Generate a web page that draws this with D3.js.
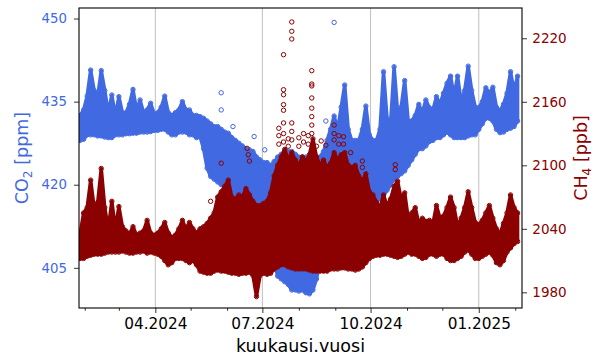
<!DOCTYPE html>
<html>
<head>
<meta charset="utf-8">
<script src="https://cdn.jsdelivr.net/npm/d3@7"></script>
<style>
  body { margin: 0; background: #fff; }
  svg { display: block; font-family: "DejaVu Sans", sans-serif; }
</style>
</head>
<body>
<svg id="chart" width="600" height="360"></svg>
<script>
// Measurement series, one sample every 3 days from 28.1.2024 (daily low / high envelope)
const startDate = Date.UTC(2024, 0, 28);
const stepDays = 3;

const co2Lo = [428, 428.2, 429, 429, 429, 428.8, 428.8, 428.6, 428.5, 428.5,
  429, 429, 429, 429.2, 429.2, 429.3, 429.3, 429.5, 429.5, 429.5,
  429.6, 429.8, 429.8, 430, 430, 429.5, 429, 429, 429.5, 429.5,
  429.5, 429, 429, 428.5, 428.7, 426.5, 423, 421.5, 421, 420.5,
  420, 419.7, 419.5, 418, 416.8, 416, 415.5, 415, 415, 415,
  414.5, 414, 413, 411, 409, 406, 403.5, 403, 402.5, 402,
  401, 401, 400.8, 401, 400.5, 400.3, 401, 403, 406, 408,
  409, 409, 409, 409, 409.5, 410, 410.5, 411, 411.5, 412,
  413, 414, 415, 416, 417, 417.5, 418, 419, 420, 421,
  421.5, 422, 422.5, 423.5, 424.5, 425.5, 426.5, 426.5, 427, 427.8,
  428, 428.5, 428.5, 429, 429.5, 429, 428.5, 428.5, 428.5, 428.5,
  428.8, 429, 429, 430, 431, 432, 432, 431.5, 430, 429.4,
  429.5, 430, 430.2, 430.5, 431.5];
const co2Hi = [432.5, 433.5, 436, 440.7, 437, 436, 440.6, 437, 433, 436.2,
  432.5, 435.9, 433, 433, 434.5, 437.2, 433.5, 435.3, 433, 433.5,
  434.7, 432.8, 433, 434, 436, 433, 432.5, 433, 433.5, 435,
  433.5, 433.5, 432.5, 432.5, 432.3, 432, 431.5, 431, 430.5, 430.5,
  430, 429.5, 429.3, 428.5, 428, 427.5, 427, 426.5, 426.3, 426,
  425, 424.5, 424, 424, 423.5, 424, 425, 425.5, 426, 426,
  426, 425.5, 425, 425, 425, 425, 424.5, 424.5, 425, 426,
  428, 430, 432.4, 430, 434, 438, 430, 428, 428, 428,
  430, 434.2, 429, 428, 428, 430, 440.4, 432, 431, 441.3,
  433, 434, 438.8, 431.5, 431.5, 432.5, 434.5, 433, 435.3, 433.9,
  433.5, 435.9, 434.5, 436.5, 438.3, 439.6, 436, 439.6, 435, 437,
  441.4, 437, 434, 433.9, 435, 437.5, 436.5, 437.6, 434, 433.3,
  434.5, 436.5, 440.4, 437, 439.6];

const ch4Lo = [2012, 2012, 2014, 2015, 2016, 2016, 2016, 2017, 2018, 2018,
  2018, 2018, 2019, 2018, 2017, 2017, 2018, 2018, 2019, 2017,
  2018, 2017, 2016, 2014, 2010, 2006, 2008, 2012, 2012, 2012,
  2010, 2008, 2010, 2006, 2000, 1999, 1998, 1998, 2000, 2001,
  2000, 2000, 1999, 1998, 1998, 1997, 1998, 1998, 1999, 1996,
  1976, 1996, 1998, 1997, 1998, 2002, 2004, 2006, 2006, 2004,
  2003, 2002, 2002, 2002, 2002, 2001, 2000, 2000, 2000, 2000,
  2000, 2002, 2002, 2002, 2003, 2003, 2002, 2002, 2001, 2002,
  2004, 2008, 2012, 2014, 2015, 2015, 2016, 2016, 2015, 2014,
  2013, 2014, 2016, 2018, 2016, 2016, 2014, 2012, 2013, 2016,
  2016, 2014, 2016, 2016, 2012, 2010, 2010, 2012, 2014, 2018,
  2020, 2016, 2012, 2012, 2014, 2016, 2018, 2015, 2008, 2006,
  2010, 2018, 2022, 2026, 2028];
const ch4Hi = [2035, 2055, 2060, 2086, 2060, 2065, 2097, 2060, 2040, 2066,
  2040, 2061, 2042, 2038, 2035, 2042, 2034, 2036, 2038, 2048,
  2036, 2034, 2036, 2040, 2046, 2036, 2032, 2034, 2040, 2048,
  2040, 2046, 2040, 2036, 2040, 2042, 2045, 2050, 2055, 2070,
  2075, 2080, 2086, 2070, 2068, 2072, 2070, 2078, 2072, 2066,
  2062, 2062, 2064, 2066, 2074, 2090, 2100, 2108, 2115, 2105,
  2112, 2105, 2100, 2108, 2104, 2110, 2125, 2108, 2100, 2105,
  2098, 2102, 2112, 2105, 2110, 2112, 2100, 2098, 2100, 2090,
  2085, 2092, 2075, 2072, 2065, 2060, 2072, 2062, 2068, 2080,
  2085, 2068, 2074, 2050, 2055, 2060, 2045, 2050, 2047, 2048,
  2045, 2062, 2050, 2052, 2060, 2070, 2060, 2042, 2050, 2060,
  2075, 2060, 2046, 2044, 2048, 2055, 2062, 2050, 2040, 2035,
  2045, 2055, 2072, 2060, 2055];

// single readings outside the daily band
const co2OutDates = ["2024-05-27", "2024-05-27", "2024-06-06", "2024-06-24", "2024-07-03",
  "2024-07-11", "2024-08-24", "2024-08-31"];
const co2OutVals = [436.6, 433.5, 430.5, 428.7, 426.3, 424.2, 431.5, 449.3];

const ch4OutDates = ["2024-05-18", "2024-05-27", "2024-06-18", "2024-06-19", "2024-06-20",
  "2024-07-15", "2024-07-15", "2024-07-15",
  "2024-07-19", "2024-07-19", "2024-07-19", "2024-07-19", "2024-07-19",
  "2024-07-19", "2024-07-19", "2024-07-19",
  "2024-07-23", "2024-07-23",
  "2024-07-26", "2024-07-26", "2024-07-26", "2024-07-26", "2024-07-26", "2024-07-26",
  "2024-08-01", "2024-08-01", "2024-08-05", "2024-08-05", "2024-08-09", "2024-08-09",
  "2024-08-12", "2024-08-12", "2024-08-12", "2024-08-12", "2024-08-12", "2024-08-12",
  "2024-08-12", "2024-08-12",
  "2024-08-16", "2024-08-20", "2024-08-24", "2024-08-31", "2024-08-31", "2024-08-31",
  "2024-09-04", "2024-09-04", "2024-09-08", "2024-09-08", "2024-09-14",
  "2024-09-24", "2024-09-24", "2024-10-22", "2024-10-22"];
const ch4OutVals = [2066, 2102, 2116, 2110, 2104,
  2120, 2128, 2135,
  2204.5, 2171.4, 2166.7, 2157.3, 2152,
  2140, 2130, 2122,
  2125, 2118,
  2235.4, 2226.6, 2219.3, 2140, 2132, 2124,
  2126, 2118, 2130, 2122, 2128, 2120,
  2189.4, 2176.8, 2175, 2163.6, 2154, 2146,
  2138, 2130,
  2118, 2123, 2119, 2138, 2130, 2124,
  2128, 2120, 2127, 2120, 2112,
  2098, 2104, 2100.6, 2096];

// axis ticks
const majorTicks = ["2024-04-01", "2024-07-01", "2024-10-01", "2025-01-01"];
const minorTicks = ["2024-02-01", "2024-03-01", "2024-05-01", "2024-06-01", "2024-08-01",
  "2024-09-01", "2024-11-01", "2024-12-01", "2025-02-01"];
const co2Ticks = [405, 420, 435, 450];
const ch4Ticks = [1980, 2040, 2100, 2160, 2220];

const CO2_COLOR = "#4169e1";
const CH4_COLOR = "#8b0000";

const W = 600, H = 360;
const margin = { top: 8, right: 78, bottom: 52, left: 79 };
const w = W - margin.left - margin.right;
const h = H - margin.top - margin.bottom;

const parse = d3.utcParse("%Y-%m-%d");
const dates = co2Lo.map((_, i) => d3.utcDay.offset(new Date(startDate), i * stepDays));

const x = d3.scaleUtc()
  .domain([new Date(Date.UTC(2024, 0, 27, 2)), new Date(Date.UTC(2025, 1, 6, 18))])
  .range([0, w]);
const yCo2 = d3.scaleLinear().domain([397.75, 451.9]).range([h, 0]);
const yCh4 = d3.scaleLinear().domain([1965.2, 2248.6]).range([h, 0]);

const svg = d3.select("#chart");
const g = svg.append("g").attr("transform", `translate(${margin.left},${margin.top})`);

const clip = svg.append("defs").append("clipPath").attr("id", "plotclip");
clip.append("rect").attr("width", w).attr("height", h);

// vertical grid at the labelled months
g.append("g")
  .selectAll("line")
  .data(majorTicks.map(parse))
  .join("line")
  .attr("x1", d => x(d)).attr("x2", d => x(d))
  .attr("y1", 0).attr("y2", h)
  .attr("stroke", "#b0b0b0")
  .attr("stroke-width", 0.8);

const plot = g.append("g").attr("clip-path", "url(#plotclip)");

function drawSeries(lo, hi, outDates, outVals, y, color) {
  const band = lo.map((v, i) => ({ date: dates[i], lo: v, hi: hi[i] }));

  plot.append("path")
    .datum(band)
    .attr("d", d3.area()
      .x(d => x(d.date))
      .y0(d => y(d.lo))
      .y1(d => y(d.hi)))
    .attr("fill", color)
    .attr("stroke", color)
    .attr("stroke-width", 3.5)
    .attr("stroke-linejoin", "round");

  const pts = band.flatMap(d => [{ date: d.date, v: d.lo }, { date: d.date, v: d.hi }])
    .concat(outDates.map((s, i) => ({ date: parse(s), v: outVals[i] })));

  plot.append("g")
    .selectAll("circle")
    .data(pts)
    .join("circle")
    .attr("cx", d => x(d.date))
    .attr("cy", d => y(d.v))
    .attr("r", 2.2)
    .attr("fill", "none")
    .attr("stroke", color)
    .attr("stroke-width", 1);
}

drawSeries(co2Lo, co2Hi, co2OutDates, co2OutVals, yCo2, CO2_COLOR);
drawSeries(ch4Lo, ch4Hi, ch4OutDates, ch4OutVals, yCh4, CH4_COLOR);

// axes
const xAxis = g.append("g")
  .attr("transform", `translate(0,${h})`)
  .call(d3.axisBottom(x)
    .tickValues(majorTicks.map(parse))
    .tickFormat(d3.utcFormat("%m.%Y"))
    .tickSize(5)
    .tickPadding(5.4));
g.append("g")
  .attr("transform", `translate(0,${h})`)
  .call(d3.axisBottom(x)
    .tickValues(minorTicks.map(parse))
    .tickFormat("")
    .tickSize(2.8));

const leftAxis = g.append("g")
  .call(d3.axisLeft(yCo2).tickValues(co2Ticks).tickFormat(d3.format("d"))
    .tickSize(5).tickPadding(7));
const rightAxis = g.append("g")
  .attr("transform", `translate(${w},0)`)
  .call(d3.axisRight(yCh4).tickValues(ch4Ticks).tickFormat(d3.format("d"))
    .tickSize(5).tickPadding(5.3));

g.selectAll(".domain").remove();
g.selectAll(".tick line").attr("stroke", "#000").attr("stroke-width", 0.8);
g.selectAll(".tick text").attr("font-family", "DejaVu Sans");
xAxis.selectAll(".tick text").attr("fill", "#000").attr("font-size", 15.3);
leftAxis.selectAll(".tick text").attr("fill", CO2_COLOR).attr("font-size", 13.3);
rightAxis.selectAll(".tick text").attr("fill", CH4_COLOR).attr("font-size", 13.5);

// frame
g.append("rect")
  .attr("width", w).attr("height", h)
  .attr("fill", "none")
  .attr("stroke", "#000")
  .attr("stroke-width", 1.1);

// axis labels
g.append("text")
  .attr("x", w / 2).attr("y", h + 44)
  .attr("text-anchor", "middle")
  .attr("font-size", 17.5)
  .text("kuukausi.vuosi");

const co2Label = g.append("text")
  .attr("transform", `translate(${-51},${h / 2}) rotate(-90)`)
  .attr("text-anchor", "middle")
  .attr("font-size", 17.5)
  .attr("fill", CO2_COLOR);
co2Label.append("tspan").text("CO");
co2Label.append("tspan").attr("font-size", 12.2).attr("dy", 4).text("2");
co2Label.append("tspan").attr("dy", -4).text(" [ppm]");

const ch4Label = g.append("text")
  .attr("transform", `translate(${w + 65},${h / 2}) rotate(-90)`)
  .attr("text-anchor", "middle")
  .attr("font-size", 17.5)
  .attr("fill", CH4_COLOR);
ch4Label.append("tspan").text("CH");
ch4Label.append("tspan").attr("font-size", 12.2).attr("dy", 4).text("4");
ch4Label.append("tspan").attr("dy", -4).text(" [ppb]");
</script>
</body>
</html>
